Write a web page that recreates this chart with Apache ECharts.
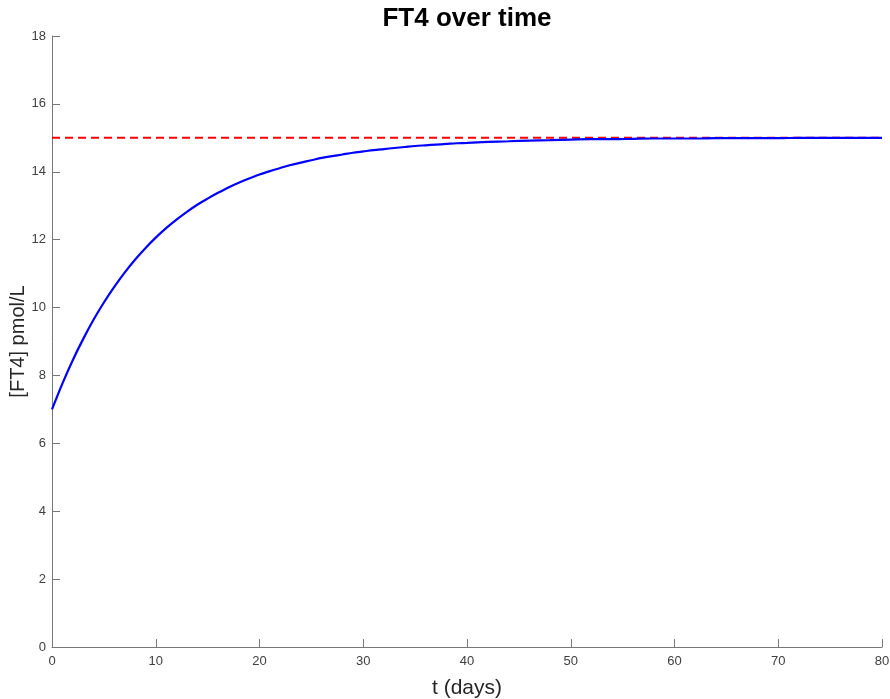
<!DOCTYPE html>
<html>
<head>
<meta charset="utf-8">
<script src="https://cdn.jsdelivr.net/npm/echarts@6/dist/echarts.min.js"></script>
<style>html,body{margin:0;padding:0;background:#fff}#c{width:890px;height:699px}</style>
</head>
<body>
<div id="c"></div>
<script>
var tDays = [0,1,2,3,4,5,6,7,8,9,10,11,12,13,14,15,16,17,18,19,20,21,22,23,24,25,26,27,28,29,30,31,32,33,34,35,36,37,38,39,40,42,44,46,48,50,52,54,56,58,60,62,64,66,68,70,72,74,76,78,80];
var ft4 = [7.00,7.76,8.45,9.07,9.64,10.15,10.61,11.03,11.41,11.75,12.06,12.34,12.59,12.82,13.03,13.21,13.38,13.54,13.68,13.80,13.92,14.02,14.11,14.20,14.27,14.34,14.41,14.46,14.51,14.56,14.60,14.64,14.67,14.70,14.73,14.76,14.78,14.80,14.82,14.84,14.85,14.88,14.90,14.92,14.93,14.95,14.96,14.96,14.97,14.98,14.98,14.98,14.99,14.99,14.99,14.99,15.00,15.00,15.00,15.00,15.00];
var refT = [0, 80];
var refVal = [15, 15];
var titleText = 'FT4 over time';
var xName = 't (days)';
var yName = '[FT4] pmol/L';

var chart = echarts.init(document.getElementById('c'));
var font = 'Liberation Sans, Arial, Helvetica, sans-serif';
chart.setOption({
  animation: false,
  backgroundColor: '#fff',
  title: {
    text: titleText, left: 462, textAlign: 'center', top: 1,
    textStyle: {fontFamily: font, fontSize: 26, fontWeight: 'bold', color: '#000'}
  },
  grid: {left: 52, right: 8, top: 36, bottom: 52, containLabel: false, outerBoundsMode: 'none'},
  xAxis: {
    type: 'value', min: 0, max: 80, interval: 10,
    name: xName, nameLocation: 'middle', nameGap: 31, nameMoveOverlap: false,
    nameTextStyle: {fontFamily: font, fontSize: 21, color: '#262626'},
    axisLine: {lineStyle: {color: '#777', width: 1}},
    axisTick: {inside: true, length: 8, lineStyle: {color: '#777'}},
    axisLabel: {fontFamily: font, fontSize: 13, color: '#404040', margin: 8},
    splitLine: {show: false}
  },
  yAxis: {
    type: 'value', min: 0, max: 18, interval: 2,
    name: yName, nameLocation: 'middle', nameGap: 24, nameMoveOverlap: false,
    nameTextStyle: {fontFamily: font, fontSize: 20, color: '#262626'},
    axisLine: {show: true, lineStyle: {color: '#777', width: 1}},
    axisTick: {show: true, inside: true, length: 8, lineStyle: {color: '#777'}},
    axisLabel: {fontFamily: font, fontSize: 13, color: '#404040', margin: 6},
    splitLine: {show: false}
  },
  series: [
    {
      type: 'line', data: refT.map(function(t, i){return [t, refVal[i]];}),
      symbol: 'none', lineStyle: {color: '#ff0000', width: 2, type: [8, 5]}, z: 2
    },
    {
      type: 'line', data: tDays.map(function(t, i){return [t, ft4[i]];}),
      symbol: 'none', smooth: 0.3, lineStyle: {color: '#0000ff', width: 2.2}, z: 3
    }
  ]
});
</script>
</body>
</html>
